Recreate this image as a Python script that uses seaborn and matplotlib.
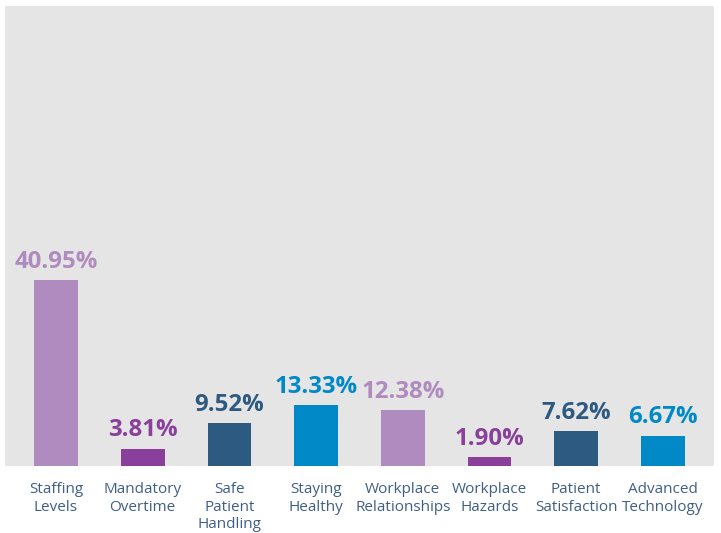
import numpy as np
import pandas as pd
import matplotlib.pyplot as plt
import seaborn as sns

categories = ["Staffing\nLevels", "Mandatory\nOvertime", "Safe\nPatient\nHandling", "Staying\nHealthy",
              "Workplace\nRelationships", "Workplace\nHazards", "Patient\nSatisfaction", "Advanced\nTechnology"]
values = [40.95, 3.81, 9.52, 13.33, 12.38, 1.90, 7.62, 6.67]
colors = ["#B08BBF", "#8A3F9B", "#2D5A80", "#0089C6", "#B08BBF", "#8A3F9B", "#2D5A80", "#0089C6"]

df = pd.DataFrame({"topic": categories, "pct": values})

sns.set_style("white")
plt.rcParams["font.family"] = ["Open Sans", "DejaVu Sans"]

fig = plt.figure(figsize=(7.21, 5.33), dpi=100)
ax = fig.add_axes([5 / 721, 67 / 533, 709 / 721, 460 / 533])
ax.set_facecolor("#E5E5E5")

sns.barplot(data=df, x="topic", y="pct", hue="topic", palette=colors,
            legend=False, width=0.505, saturation=1, linewidth=0, ax=ax)

for i, (v, c) in enumerate(zip(values, colors)):
    ax.annotate(f"{v:.2f}%", (i, v), xytext=(0, 4.5), textcoords="offset points",
                ha="center", va="bottom", fontsize=17.3, fontweight="bold", color=c)

ax.set_xlim(-0.588, 7.589)
ax.set_ylim(0, 101.3)
ax.set_xlabel("")
ax.set_ylabel("")
ax.set_yticks([])
ax.tick_params(axis="x", length=0, pad=11.8, labelsize=11, labelcolor="#3E5F85")
for s in ax.spines.values():
    s.set_visible(False)

fig.savefig("out.png", dpi=100)
